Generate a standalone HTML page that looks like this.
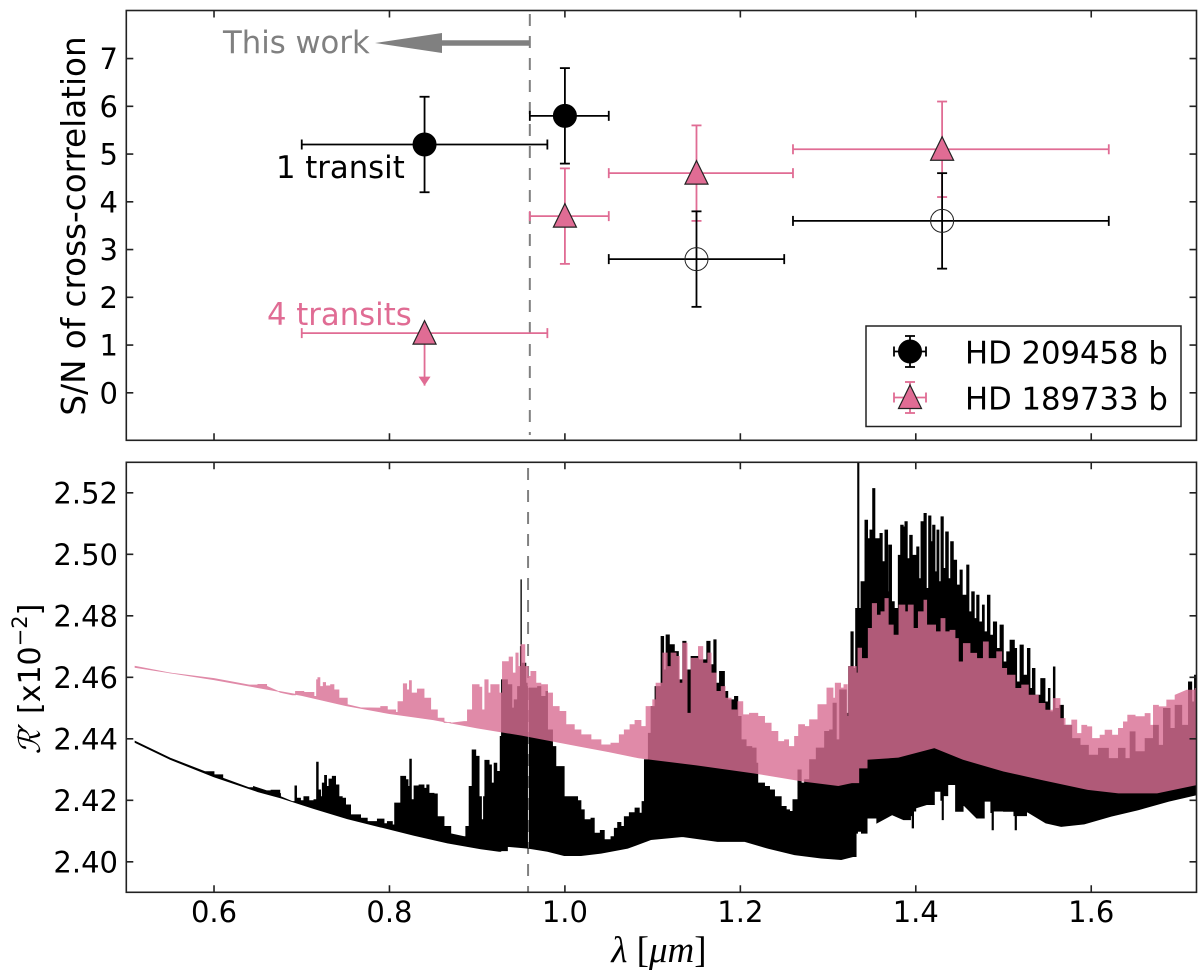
<!DOCTYPE html>
<html lang="en">
<head>
<meta charset="utf-8">
<title>S/N of cross-correlation and model spectra</title>
<style>
html,body{margin:0;padding:0;background:#fff;}
svg{display:block;font-family:"DejaVu Sans","Liberation Sans",sans-serif;}
</style>
</head>
<body>
<svg id="figure" xmlns="http://www.w3.org/2000/svg" width="1200" height="975" viewBox="0 0 1200 975">
  <defs>
    <clipPath id="lower-clip"><rect x="126.3" y="462.3" width="1070.2" height="430"/></clipPath>
  </defs>
  <rect x="0" y="0" width="1200" height="975" fill="#fff"/>
  <g id="top-panel"></g>
  <g id="low-panel"></g>
  <text transform="translate(85,226) rotate(-90)" text-anchor="middle" font-size="32.6" fill="#000">S/N of cross-correlation</text>
  <text transform="translate(40,679) rotate(-90)" text-anchor="middle" font-size="30" fill="#000"><tspan font-family="'DejaVu Serif',serif" font-style="italic">ℛ′</tspan> [x10<tspan dy="-13" font-size="21">−2</tspan><tspan dy="13">]</tspan></text>
  <text x="659" y="962" text-anchor="middle" font-size="37" font-family="'Liberation Serif',serif" fill="#000"><tspan font-style="italic">λ</tspan> [<tspan font-style="italic">μm</tspan>]</text>
  <text x="223" y="53" font-size="30.7" fill="#808080">This work</text>
  <text x="276" y="178" font-size="30.7" fill="#000">1 transit</text>
  <text x="267" y="325" font-size="30.7" fill="#e06c94">4 transits</text>
</svg>
<script>
// ---- axis ticks ----
const xTickValues = [0.6, 0.8, 1.0, 1.2, 1.4, 1.6];
const topYTickValues = [0, 1, 2, 3, 4, 5, 6, 7];
const lowYTickValues = [2.40, 2.42, 2.44, 2.46, 2.48, 2.50, 2.52];
const boundaryTop = 0.96;
const boundaryLow = 0.958;

// ---- upper panel: HD 209458 b ----
const hd209Wave = [0.84, 1.00, 1.15, 1.43];
const hd209Waveleft = [0.70, 0.96, 1.05, 1.26];
const hd209Waveright = [0.98, 1.05, 1.25, 1.62];
const hd209Snr = [5.2, 5.8, 2.8, 3.6];
const hd209SnrErr = [1, 1, 1, 1];
const hd209Open = [false, false, true, true];

// ---- upper panel: HD 189733 b ----
const hd189Wave = [1.00, 1.15, 1.43];
const hd189Waveleft = [0.96, 1.05, 1.26];
const hd189Waveright = [1.05, 1.26, 1.62];
const hd189Snr = [3.7, 4.6, 5.1];
const hd189SnrErr = [1, 1, 1];
const limitWave = 0.84;
const limitWaveleft = 0.70;
const limitWaveright = 0.98;
const limitSnr = 1.25;
const limitEnd = 0.15;

// ---- lower panel: HD 209458 b spectrum envelope ( R' x 100 = 2.4 + value ) ----
const blackHighWave = [0.51,0.55,0.59,0.60,0.61,0.64,0.645,0.66,0.665,0.675,0.6758,0.6891,0.6922,0.6941,0.6986,0.7024,0.7081,0.7139,0.7169,0.7188,0.7215,0.7234,0.7260,0.7283,0.7310,0.7348,0.7386,0.7424,0.7462,0.7500,0.7557,0.7671,0.7747,0.7862,0.7938,0.7976,0.8033,0.8059,0.8128,0.8185,0.8212,0.8231,0.8250,0.8280,0.8337,0.8394,0.8425,0.8451,0.8508,0.8546,0.8622,0.8699,0.8851,0.8870,0.8908,0.8942,0.8984,0.9022,0.9049,0.9072,0.9087,0.9136,0.9163,0.9193,0.9224,0.9262,0.9277,0.9345,0.9395,0.9403,0.9411,0.9422,0.9460,0.9492,0.9498,0.9504,0.9513,0.9555,0.9570,0.9574,0.9589,0.9593,0.9612,0.9688,0.9726,0.9783,0.9802,0.9859,0.9897,0.9935,0.9992,1.0069,1.0145,1.0183,1.0221,1.0297,1.0335,1.0403,1.0449,1.0525,1.0563,1.0601,1.0639,1.0677,1.0734,1.0799,1.0848,1.0879,1.0906,1.0951,1.0982,1.1027,1.1096,1.1126,1.1153,1.1191,1.1248,1.1294,1.1343,1.1381,1.1438,1.1522,1.1572,1.1617,1.1655,1.1697,1.1724,1.1762,1.1819,1.1857,1.1895,1.1933,1.1971,1.2009,1.2066,1.2131,1.2180,1.2199,1.2276,1.2333,1.2390,1.2466,1.2523,1.2561,1.2599,1.2656,1.2694,1.2732,1.2789,1.2865,1.2960,1.3017,1.3056,1.3094,1.3132,1.3208,1.3234,1.3260,1.3287,1.3314,1.3337,1.3352,1.3375,1.3420,1.3451,1.3477,1.3508,1.3534,1.3591,1.3618,1.3648,1.3679,1.3690,1.3724,1.3755,1.3800,1.3827,1.3857,1.3876,1.3903,1.3930,1.3960,1.4010,1.4036,1.4059,1.4093,1.4120,1.4146,1.4173,1.4192,1.4219,1.4241,1.4264,1.4287,1.4314,1.4340,1.4371,1.4397,1.4428,1.4466,1.4504,1.4530,1.4580,1.4606,1.4637,1.4667,1.4694,1.4721,1.4759,1.4781,1.4816,1.4846,1.4884,1.4922,1.4960,1.4998,1.5036,1.5074,1.5124,1.5150,1.5188,1.5226,1.5272,1.5302,1.5329,1.5359,1.5424,1.5473,1.5511,1.5530,1.5568,1.5587,1.5637,1.5683,1.5778,1.5873,1.5968,1.6082,1.6196,1.6310,1.6386,1.6443,1.6500,1.6614,1.6709,1.6766,1.6823,1.6899,1.6956,1.7032,1.7108,1.7146,1.7177,1.7192,1.7205];
const blackHighValue = [0.0392,0.0337,0.0293,0.0283,0.0272,0.0241,0.0245,0.0231,0.0233,0.0222,0.0212,0.0196,0.0247,0.0207,0.0199,0.0212,0.0199,0.0202,0.0324,0.0234,0.0212,0.0256,0.0281,0.0245,0.0269,0.0278,0.0250,0.0212,0.0207,0.0185,0.0153,0.0142,0.0131,0.0139,0.0124,0.0131,0.0120,0.0191,0.0278,0.0267,0.0245,0.0334,0.0202,0.0247,0.0250,0.0239,0.0250,0.0223,0.0221,0.0147,0.0115,0.0091,0.0082,0.0115,0.0245,0.0364,0.0343,0.0212,0.0137,0.0212,0.0330,0.0315,0.0256,0.0321,0.0294,0.0408,0.0592,0.0576,0.0500,0.0408,0.0500,0.0527,0.0570,0.0700,0.0917,0.0646,0.0646,0.0581,0.0570,0.0044,0.0044,0.0565,0.0565,0.0570,0.0538,0.0554,0.0429,0.0375,0.0310,0.0310,0.0212,0.0212,0.0199,0.0169,0.0137,0.0142,0.0093,0.0102,0.0072,0.0082,0.0109,0.0128,0.0115,0.0147,0.0160,0.0175,0.0158,0.0196,0.0332,0.0418,0.0505,0.0570,0.0733,0.0624,0.0738,0.0706,0.0684,0.0592,0.0717,0.0624,0.0668,0.0657,0.0657,0.0717,0.0641,0.0722,0.0581,0.0619,0.0554,0.0527,0.0527,0.0538,0.0473,0.0397,0.0375,0.0370,0.0321,0.0256,0.0245,0.0234,0.0212,0.0180,0.0169,0.0164,0.0202,0.0299,0.0256,0.0267,0.0332,0.0370,0.0424,0.0429,0.0516,0.0397,0.0559,0.0483,0.0635,0.0748,0.0629,0.0824,0.1301,0.0824,0.0911,0.1111,0.1051,0.1079,0.1214,0.1051,0.1068,0.0976,0.1079,0.0878,0.1030,0.0846,0.0824,0.0997,0.1095,0.1089,0.1106,0.0986,0.1062,0.0997,0.1024,0.0921,0.1106,0.1133,0.0889,0.1125,0.1041,0.1095,0.0943,0.1079,0.0911,0.1122,0.0954,0.1073,0.0921,0.1041,0.0981,0.0900,0.0949,0.0867,0.0965,0.0813,0.0878,0.0791,0.0867,0.0780,0.0835,0.0748,0.0867,0.0737,0.0780,0.0694,0.0770,0.0650,0.0683,0.0721,0.0694,0.0585,0.0705,0.0607,0.0694,0.0564,0.0629,0.0542,0.0596,0.0520,0.0564,0.0488,0.0634,0.0499,0.0509,0.0444,0.0401,0.0379,0.0347,0.0369,0.0336,0.0369,0.0336,0.0423,0.0358,0.0401,0.0444,0.0379,0.0499,0.0434,0.0509,0.0444,0.0585,0.0520,0.0607,0.0542,0.0500];
const blackLowWave = [0.51,0.55,0.60,0.65,0.6758,0.7139,0.7519,0.7900,0.8280,0.8661,0.9041,0.9250,0.9270,0.9345,0.9581,0.9802,0.9992,1.0183,1.0411,1.0715,1.0980,1.1340,1.1740,1.2050,1.2313,1.2618,1.2922,1.3150,1.3284,1.3320,1.3336,1.3380,1.3445,1.3555,1.3730,1.3860,1.3940,1.3958,1.3975,1.4000,1.4124,1.4212,1.4285,1.4300,1.4315,1.4365,1.4453,1.4540,1.4694,1.4781,1.4855,1.4869,1.4885,1.5000,1.5118,1.5132,1.5148,1.5263,1.5482,1.5657,1.5920,1.6227,1.6534,1.6884,1.7205];
const blackLowValue = [0.0388,0.0333,0.0276,0.0228,0.0208,0.0173,0.0140,0.0113,0.0086,0.0061,0.0042,0.0034,0.0036,0.0050,0.0044,0.0034,0.0020,0.0020,0.0028,0.0044,0.0072,0.0082,0.0066,0.0066,0.0044,0.0023,0.0012,0.0007,0.0017,0.0093,0.0099,0.0093,0.0142,0.0126,0.0153,0.0137,0.0150,0.0110,0.0165,0.0175,0.0186,0.0229,0.0200,0.0137,0.0215,0.0251,0.0164,0.0186,0.0142,0.0197,0.0160,0.0104,0.0165,0.0164,0.0150,0.0104,0.0150,0.0164,0.0126,0.0115,0.0123,0.0148,0.0169,0.0197,0.0218];

// ---- lower panel: HD 189733 b spectrum envelope ----
const pinkHighWave = [0.51,0.55,0.60,0.64,0.65,0.66,0.6758,0.6891,0.6929,0.7024,0.7139,0.7169,0.7184,0.7207,0.7245,0.7272,0.7329,0.7367,0.7424,0.7519,0.7671,0.7862,0.7900,0.7976,0.8071,0.8097,0.8158,0.8196,0.8227,0.8250,0.8318,0.8394,0.8470,0.8546,0.8622,0.8699,0.8851,0.8889,0.8946,0.9022,0.9053,0.9087,0.9125,0.9155,0.9212,0.9250,0.9288,0.9364,0.9403,0.9441,0.9467,0.9498,0.9543,0.9581,0.9612,0.9669,0.9726,0.9802,0.9859,0.9935,1.0011,1.0107,1.0183,1.0297,1.0411,1.0525,1.0620,1.0677,1.0742,1.0799,1.0867,1.0925,1.1001,1.1039,1.1115,1.1166,1.1210,1.1267,1.1305,1.1343,1.1393,1.1438,1.1522,1.1572,1.1629,1.1667,1.1724,1.1781,1.1826,1.1895,1.1971,1.2028,1.2104,1.2199,1.2276,1.2351,1.2428,1.2504,1.2550,1.2618,1.2664,1.2732,1.2789,1.2884,1.2987,1.3056,1.3082,1.3143,1.3181,1.3219,1.3234,1.3322,1.3341,1.3382,1.3458,1.3504,1.3553,1.3603,1.3648,1.3686,1.3743,1.3808,1.3876,1.3914,1.3971,1.4029,1.4093,1.4124,1.4181,1.4226,1.4287,1.4333,1.4390,1.4447,1.4485,1.4542,1.4618,1.4694,1.4770,1.4827,1.4922,1.4979,1.5036,1.5131,1.5207,1.5283,1.5397,1.5473,1.5568,1.5644,1.5702,1.5778,1.5835,1.5892,1.5949,1.6006,1.6101,1.6158,1.6234,1.6310,1.6367,1.6416,1.6500,1.6614,1.6671,1.6709,1.6766,1.6861,1.6956,1.7090,1.7185,1.7205];
const pinkHighValue = [0.0636,0.0614,0.0596,0.0575,0.0577,0.0571,0.0551,0.0543,0.0554,0.0551,0.0538,0.0592,0.0599,0.0570,0.0583,0.0572,0.0576,0.0559,0.0532,0.0511,0.0501,0.0500,0.0505,0.0494,0.0486,0.0521,0.0579,0.0559,0.0589,0.0549,0.0562,0.0532,0.0494,0.0467,0.0453,0.0451,0.0456,0.0494,0.0576,0.0568,0.0494,0.0592,0.0549,0.0576,0.0576,0.0549,0.0651,0.0666,0.0614,0.0679,0.0635,0.0706,0.0635,0.0603,0.0619,0.0581,0.0576,0.0549,0.0505,0.0489,0.0446,0.0429,0.0413,0.0397,0.0380,0.0386,0.0413,0.0429,0.0446,0.0460,0.0440,0.0505,0.0527,0.0581,0.0679,0.0635,0.0679,0.0668,0.0581,0.0711,0.0483,0.0662,0.0700,0.0646,0.0679,0.0614,0.0554,0.0570,0.0532,0.0494,0.0521,0.0478,0.0483,0.0473,0.0451,0.0424,0.0391,0.0397,0.0375,0.0408,0.0446,0.0440,0.0462,0.0511,0.0565,0.0532,0.0581,0.0565,0.0576,0.0473,0.0635,0.0614,0.0695,0.0661,0.0759,0.0840,0.0802,0.0813,0.0856,0.0770,0.0737,0.0835,0.0813,0.0835,0.0759,0.0813,0.0851,0.0770,0.0770,0.0748,0.0791,0.0748,0.0753,0.0726,0.0650,0.0710,0.0678,0.0661,0.0715,0.0661,0.0683,0.0629,0.0607,0.0564,0.0575,0.0542,0.0515,0.0493,0.0531,0.0466,0.0444,0.0461,0.0417,0.0444,0.0439,0.0401,0.0412,0.0428,0.0412,0.0434,0.0455,0.0477,0.0472,0.0482,0.0444,0.0509,0.0504,0.0526,0.0542,0.0558,0.0564,0.0540];
const pinkLowWave = [0.51,0.60,0.70,0.75,0.80,0.85,0.90,0.95,1.018,1.05,1.084,1.15,1.215,1.272,1.3117,1.327,1.335,1.3445,1.380,1.4212,1.454,1.500,1.544,1.596,1.631,1.675,1.7205];
const pinkLowValue = [0.0632,0.0592,0.0541,0.0508,0.0482,0.0462,0.0435,0.0412,0.0375,0.0358,0.0338,0.0315,0.0289,0.0262,0.0248,0.0257,0.0305,0.0333,0.0340,0.0371,0.0333,0.0295,0.0267,0.0235,0.0224,0.0224,0.0251];

// ---- scales ----
const xLeft = 126.3, xRight = 1196.5;
function xScale(w) { return xLeft + (w - 0.5) / (1.72 - 0.5) * (xRight - xLeft); }
function topY(v) { return 392.8 - v * 47.75; }
function lowY(v) { return 861.8 - (v - 2.40) * 3075; }
function lowYOffset(d) { return lowY(2.40 + d); }

const NS = 'http://www.w3.org/2000/svg';
function mk(parent, tag, attrs) {
  const el = document.createElementNS(NS, tag);
  for (const k in attrs) el.setAttribute(k, attrs[k]);
  parent.appendChild(el);
  return el;
}
const BLACK = '#000000', PINK = '#e06c94', AXIS = '#222222';
const topPanel = document.getElementById('top-panel');
const lowPanel = document.getElementById('low-panel');

function drawErrorbar(parent, name, x, y, xl, xr, yl, yh, color) {
  const g = mk(parent, 'g', {});
  
  
  const segs = [[xl, y, xr, y], [x, yl, x, yh], [xl, y - 5, xl, y + 5], [xr, y - 5, xr, y + 5], [x - 5, yl, x + 5, yl], [x - 5, yh, x + 5, yh]];
  segs.forEach(function (s) {
    mk(g, 'line', { x1: s[0], y1: s[1], x2: s[2], y2: s[3], stroke: color, 'stroke-width': 1.8 });
  });
  return g;
}
function drawCircle(parent, name, x, y, open) {
  const c = mk(parent, 'circle', { cx: x, cy: y, r: 11.5, fill: open ? 'none' : BLACK, stroke: open ? '#222' : BLACK, 'stroke-width': 1 });
  
  
}
function drawTriangle(parent, name, x, y) {
  const p = [[x, y - 12.5], [x + 11.5, y + 11], [x - 11.5, y + 11]].map(function (a) { return a.join(','); }).join(' ');
  const t = mk(parent, 'polygon', { points: p, fill: PINK, stroke: '#222', 'stroke-width': 1.2 });
  
  
}

// ---- upper panel ----
const dashTop = mk(topPanel, 'line', { x1: xScale(boundaryTop), x2: xScale(boundaryTop), y1: 14, y2: 435, stroke: '#808080', 'stroke-width': 2, 'stroke-dasharray': '12 10' });



const arrowBody = mk(topPanel, 'polygon', { points: [xScale(boundaryTop) + ',40.2', '442,40.2', '442,33', '375,43', '442,53', '442,45.8', xScale(boundaryTop) + ',45.8'].join(' '), fill: '#808080' });



hd189Wave.forEach(function (w, i) {
  drawErrorbar(topPanel, 'hd189733-errorbar', xScale(w), topY(hd189Snr[i]), xScale(hd189Waveleft[i]), xScale(hd189Waveright[i]), topY(hd189Snr[i] - hd189SnrErr[i]), topY(hd189Snr[i] + hd189SnrErr[i]), PINK);
});
hd209Wave.forEach(function (w, i) {
  drawErrorbar(topPanel, 'hd209458-errorbar', xScale(w), topY(hd209Snr[i]), xScale(hd209Waveleft[i]), xScale(hd209Waveright[i]), topY(hd209Snr[i] - hd209SnrErr[i]), topY(hd209Snr[i] + hd209SnrErr[i]), BLACK);
});
hd209Wave.forEach(function (w, i) {
  drawCircle(topPanel, hd209Open[i] ? 'hd209458-open-point' : 'hd209458-point', xScale(w), topY(hd209Snr[i]), hd209Open[i]);
});
hd189Wave.forEach(function (w, i) {
  drawTriangle(topPanel, 'hd189733-point', xScale(w), topY(hd189Snr[i]));
});

// upper limit
const limitGroup = mk(topPanel, 'g', {});


const lx = xScale(limitWave), ly = topY(limitSnr), le = topY(limitEnd);
mk(limitGroup, 'line', { x1: xScale(limitWaveleft), x2: xScale(limitWaveright), y1: ly, y2: ly, stroke: PINK, 'stroke-width': 1.8 });
mk(limitGroup, 'line', { x1: xScale(limitWaveleft), x2: xScale(limitWaveleft), y1: ly - 5, y2: ly + 5, stroke: PINK, 'stroke-width': 1.8 });
mk(limitGroup, 'line', { x1: xScale(limitWaveright), x2: xScale(limitWaveright), y1: ly - 5, y2: ly + 5, stroke: PINK, 'stroke-width': 1.8 });
mk(limitGroup, 'line', { x1: lx, x2: lx, y1: ly, y2: le, stroke: PINK, 'stroke-width': 1.8 });
mk(limitGroup, 'polygon', { points: [lx - 6, le - 9, lx + 6, le - 9, lx, le].join(' '), fill: PINK });
drawTriangle(topPanel, 'hd189733-limit-point', lx, ly);

// ---- legend ----
const legendBox = mk(topPanel, 'rect', { x: 866, y: 326, width: 315, height: 100.5, fill: '#fff', stroke: AXIS, 'stroke-width': 1.5 });


drawErrorbar(topPanel, 'legend-errorbar-hd209458', 910, 351.5, 894, 926, 336, 367, BLACK);
drawCircle(topPanel, 'legend-marker-hd209458', 910, 351.5, false);
drawErrorbar(topPanel, 'legend-errorbar-hd189733', 910, 397.5, 894, 926, 382, 413, PINK);
drawTriangle(topPanel, 'legend-marker-hd189733', 910, 397.5);
const legendA = mk(topPanel, 'text', { x: 965, y: 363.5, 'font-size': 30.7, fill: '#000' });


legendA.textContent = 'HD 209458 b';
const legendB = mk(topPanel, 'text', { x: 965, y: 409.5, 'font-size': 30.7, fill: '#000' });


legendB.textContent = 'HD 189733 b';

// ---- lower panel spectra ----
// Closely spaced samples are joined as vertical steps so spectral lines keep sharp edges.
const stepGap = 0.012;
function tracePoints(waves, values) {
  const pts = [];
  waves.forEach(function (w, i) {
    const x = xScale(w), y = lowYOffset(values[i]);
    pts.push([x, y]);
    if (i < waves.length - 1 && waves[i + 1] - w < stepGap) {
      pts.push([xScale(waves[i + 1]), y]);
    }
  });
  return pts;
}
function envelope(hw, hv, lw, lv) {
  const upper = tracePoints(hw, hv);
  const lower = tracePoints(lw, lv).reverse();
  return upper.concat(lower).map(function (p) { return p[0].toFixed(2) + ',' + p[1].toFixed(2); }).join(' ');
}
const dashLow = mk(lowPanel, 'line', { x1: xScale(boundaryLow), x2: xScale(boundaryLow), y1: 468, y2: 892, stroke: '#808080', 'stroke-width': 2, 'stroke-dasharray': '12 10' });



const spectra = mk(lowPanel, 'g', { 'clip-path': 'url(#lower-clip)' });


const blackSpec = mk(spectra, 'polygon', { points: envelope(blackHighWave, blackHighValue, blackLowWave, blackLowValue), fill: BLACK, stroke: BLACK, 'stroke-width': 0.8 });


const pinkSpec = mk(spectra, 'polygon', { points: envelope(pinkHighWave, pinkHighValue, pinkLowWave, pinkLowValue), fill: '#d96f94', stroke: '#d96f94', 'stroke-width': 0.8, opacity: 0.81 });



// ---- axes ----
function drawFrame(parent, name, top, bottom) {
  const r = mk(parent, 'rect', { x: xLeft, y: top, width: xRight - xLeft, height: bottom - top, fill: 'none', stroke: AXIS, 'stroke-width': 1.6 });
  
  
}
function drawTicks(parent, top, bottom, yTicks, yFn, fmt, showX) {
  xTickValues.forEach(function (v) {
    const x = xScale(v);
    const t = mk(parent, 'path', { d: 'M' + x + ' ' + top + 'v7M' + x + ' ' + bottom + 'v-7', stroke: AXIS, 'stroke-width': 1.6, fill: 'none' });
    
    
    if (showX) {
      const l = mk(parent, 'text', { x: x, y: 922, 'text-anchor': 'middle', 'font-size': 29, fill: '#000' });
      
      
      l.textContent = v.toFixed(1);
    }
  });
  yTicks.forEach(function (v) {
    const y = yFn(v);
    const t = mk(parent, 'path', { d: 'M' + xLeft + ' ' + y + 'h7M' + xRight + ' ' + y + 'h-7', stroke: AXIS, 'stroke-width': 1.6, fill: 'none' });
    
    
    const l = mk(parent, 'text', { x: 118, y: y + 10.5, 'text-anchor': 'end', 'font-size': 29, fill: '#000' });
    
    
    l.textContent = fmt(v);
  });
}
drawFrame(topPanel, 'top-axes-frame', 10.5, 440.3);
drawTicks(topPanel, 10.5, 440.3, topYTickValues, topY, function (v) { return String(v); }, false);
drawFrame(lowPanel, 'bottom-axes-frame', 462.3, 892.3);
drawTicks(lowPanel, 462.3, 892.3, lowYTickValues, lowY, function (v) { return v.toFixed(2); }, true);
</script>
</body>
</html>
